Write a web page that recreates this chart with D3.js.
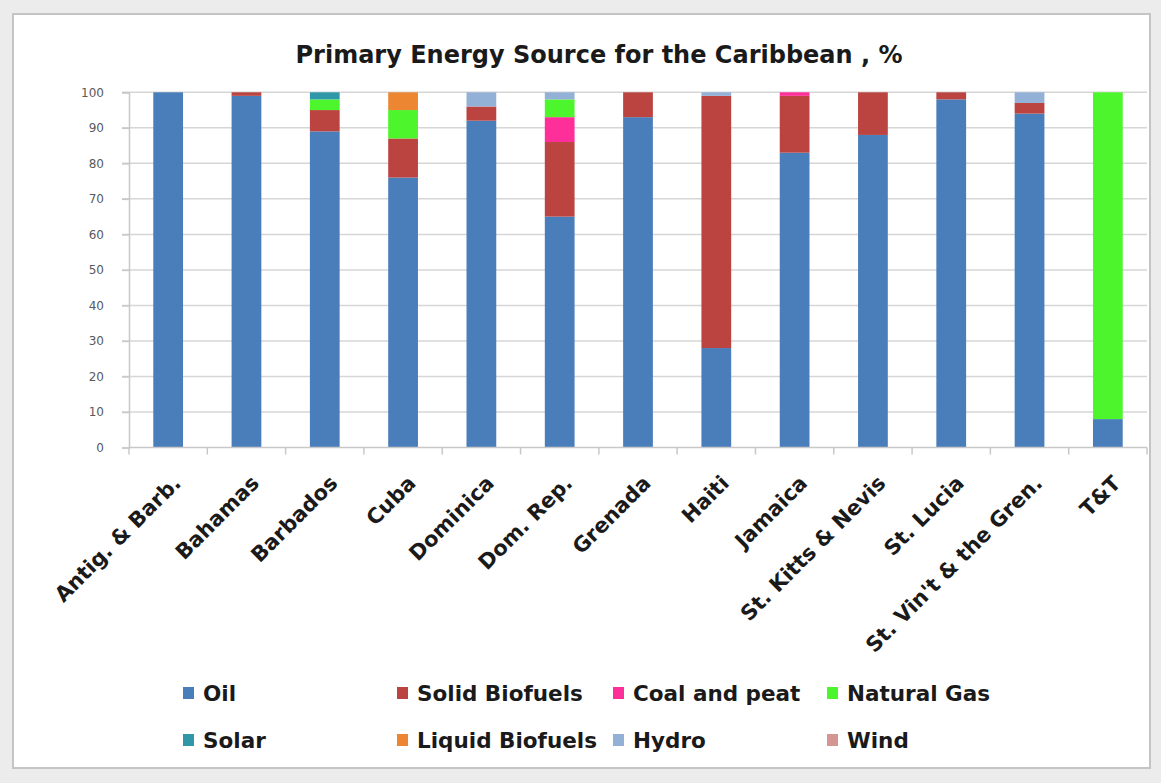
<!DOCTYPE html>
<html lang="en">
<head>
<meta charset="utf-8">
<title>Primary Energy Source for the Caribbean</title>
<script src="https://d3js.org/d3.v7.min.js"></script>
<style>
  html, body { margin: 0; padding: 0; background: #ececec; }
  svg { display: block; font-family: "DejaVu Sans", Lato, sans-serif; }
</style>
</head>
<body>
<div id="chart"></div>
<script>
// categories and series (% of primary energy)
var countries = ["Antig. & Barb.", "Bahamas", "Barbados", "Cuba", "Dominica", "Dom. Rep.",
                 "Grenada", "Haiti", "Jamaica", "St. Kitts & Nevis", "St. Lucia",
                 "St. Vin't & the Gren.", "T&T"];
var oil            = [100, 99, 89, 76, 92, 65, 93, 28, 83, 88, 98, 94, 8];
var solidBiofuels  = [0, 1, 6, 11, 4, 21, 7, 71, 16, 12, 2, 3, 0];
var coalPeat       = [0, 0, 0, 0, 0, 7, 0, 0, 1, 0, 0, 0, 0];
var naturalGas     = [0, 0, 3, 8, 0, 5, 0, 0, 0, 0, 0, 0, 92];
var solar          = [0, 0, 2, 0, 0, 0, 0, 0, 0, 0, 0, 0, 0];
var liquidBiofuels = [0, 0, 0, 5, 0, 0, 0, 0, 0, 0, 0, 0, 0];
var hydro          = [0, 0, 0, 0, 4, 2, 0, 1, 0, 0, 0, 3, 0];
var wind           = [0, 0, 0, 0, 0, 0, 0, 0, 0, 0, 0, 0, 0];
var yTicks = [0, 10, 20, 30, 40, 50, 60, 70, 80, 90, 100];

var seriesNames = ["Oil", "Solid Biofuels", "Coal and peat", "Natural Gas",
                   "Solar", "Liquid Biofuels", "Hydro", "Wind"];
var seriesValues = [oil, solidBiofuels, coalPeat, naturalGas, solar, liquidBiofuels, hydro, wind];
var colors = ["#4a7ebb", "#bb4441", "#ff2f9a", "#4df52c", "#2f97a8", "#ec8633", "#93b1d6", "#d49593"];

// rows for d3.stack
var rows = countries.map(function(c, i) {
  var r = { country: c };
  seriesNames.forEach(function(s, j) { r[s] = seriesValues[j][i]; });
  return r;
});

var W = 1161, H = 783;
var svg = d3.select("#chart").append("svg")
    .attr("width", W)
    .attr("height", H);

// chart frame
svg.append("rect")
    .attr("x", 13).attr("y", 14)
    .attr("width", 1137).attr("height", 754)
    .attr("fill", "#fff")
    .attr("stroke", "#c4c4c4")
    .attr("stroke-width", 2);

var x = d3.scaleBand()
    .domain(countries)
    .range([129, 1147])
    .paddingInner(0.62)
    .paddingOuter(0.31);

var y = d3.scaleLinear()
    .domain([0, 100])
    .range([447.5, 92.3]);

// title
svg.append("text")
    .attr("x", 599)
    .attr("y", 63)
    .attr("text-anchor", "middle")
    .style("font-size", "24px")
    .style("font-weight", "bold")
    .attr("fill", "#1a1a1a")
    .text("Primary Energy Source for the Caribbean , %");

// gridlines
svg.append("g")
  .selectAll("line")
  .data(yTicks.filter(function(d) { return d > 0; }))
  .enter().append("line")
    .attr("x1", 122).attr("x2", 1147)
    .attr("y1", function(d) { return y(d); })
    .attr("y2", function(d) { return y(d); })
    .attr("stroke", "#d6d6d6")
    .attr("stroke-width", 1.5);

// y axis
var yAxis = svg.append("g")
    .attr("transform", "translate(129,0)")
    .call(d3.axisLeft(y).tickValues(yTicks).tickSize(7).tickPadding(18));
yAxis.select(".domain").attr("stroke", "#c8c8c8").attr("stroke-width", 1.5);
yAxis.selectAll(".tick line").attr("stroke", "#c8c8c8").attr("stroke-width", 1.5);
yAxis.selectAll(".tick text")
    .attr("fill", "#595959")
    .style("font-size", "12px")
    .style("font-family", "'DejaVu Sans', sans-serif");

// stacked bars
var stack = d3.stack().keys(seriesNames);
var layers = stack(rows);

svg.append("g")
  .selectAll("g")
  .data(layers)
  .enter().append("g")
    .attr("fill", function(d, i) { return colors[i]; })
  .selectAll("rect")
  .data(function(d) { return d; })
  .enter().append("rect")
    .attr("x", function(d) { return x(d.data.country); })
    .attr("y", function(d) { return y(d[1]); })
    .attr("width", x.bandwidth())
    .attr("height", function(d) { return y(d[0]) - y(d[1]); });

// x axis line and ticks at band edges
var gap = x.step() - x.bandwidth();
var edges = countries.map(function(c) { return x(c) - gap / 2; });
edges.push(x.range()[1]);
var xAxis = svg.append("g");
xAxis.append("line")
    .attr("x1", 129).attr("x2", 1147)
    .attr("y1", y(0)).attr("y2", y(0))
    .attr("stroke", "#c8c8c8")
    .attr("stroke-width", 1.5);
xAxis.selectAll(".xtick")
  .data(edges)
  .enter().append("line")
    .attr("class", "xtick")
    .attr("x1", function(d) { return d; })
    .attr("x2", function(d) { return d; })
    .attr("y1", y(0)).attr("y2", y(0) + 7)
    .attr("stroke", "#c8c8c8")
    .attr("stroke-width", 1.5);

// rotated category labels
xAxis.selectAll(".xlabel")
  .data(countries)
  .enter().append("text")
    .attr("class", "xlabel")
    .attr("text-anchor", "end")
    .attr("transform", function(d) {
      return "translate(" + (x(d) + x.bandwidth() / 2 + 14) + "," + (y(0) + 37) + ") rotate(-45)";
    })
    .style("font-size", "21px")
    .style("font-weight", "bold")
    .attr("fill", "#1a1a1a")
    .text(function(d) { return d; });

// legend: two rows of four
var legendCols = [183, 397, 613, 827];
var legendRows = [693, 740];
var legend = svg.append("g")
  .selectAll("g")
  .data(seriesNames)
  .enter().append("g")
    .attr("transform", function(d, i) {
      return "translate(" + legendCols[i % 4] + "," + legendRows[Math.floor(i / 4)] + ")";
    });
legend.append("rect")
    .attr("x", 0).attr("y", -6)
    .attr("width", 11).attr("height", 12)
    .attr("fill", function(d, i) { return colors[i]; });
legend.append("text")
    .attr("x", 20)
    .attr("y", 7.5)
    .style("font-size", "21.5px")
    .style("font-weight", "bold")
    .attr("fill", "#1a1a1a")
    .text(function(d) { return d; });
</script>
</body>
</html>
